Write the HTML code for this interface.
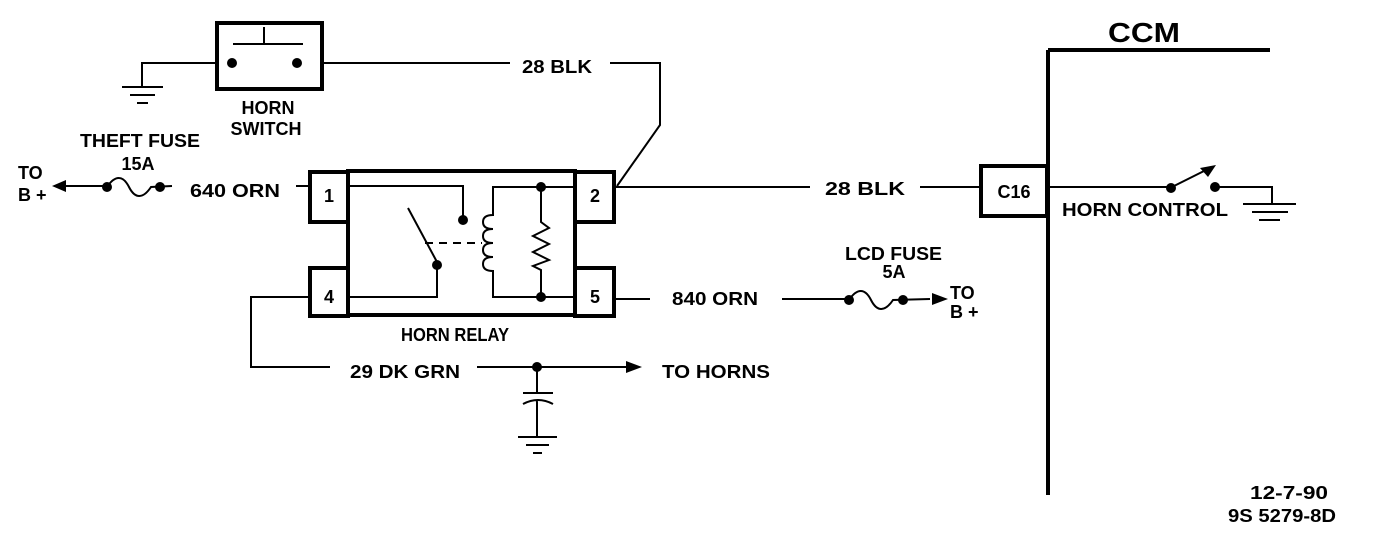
<!DOCTYPE html>
<html><head><style>
html,body{margin:0;padding:0;background:#fff;}
svg{display:block;}
text{font-family:"Liberation Sans Narrow","Liberation Sans",sans-serif;font-weight:bold;font-size:18px;fill:#000;}
</style></head><body>
<svg width="1376" height="536" viewBox="0 0 1376 536" xmlns="http://www.w3.org/2000/svg">
<g stroke="#000" fill="none" stroke-width="2">
<!-- horn switch -->
<rect x="217" y="23" width="105" height="66" stroke-width="4"/>
<path d="M264 27V44M233 44H303"/>
<path d="M217 63H142V87M122 87H163M130 95H155M137 103H148"/>
<path d="M322 63H510M610 63H660V125L617 186"/>
<!-- relay -->
<path d="M348 171H575V315H348Z" stroke-width="4"/>
<rect x="310" y="172" width="38" height="50" stroke-width="4" fill="#fff"/>
<rect x="310" y="268" width="38" height="48" stroke-width="4" fill="#fff"/>
<rect x="575" y="172" width="39" height="50" stroke-width="4" fill="#fff"/>
<rect x="575" y="268" width="39" height="48" stroke-width="4" fill="#fff"/>
<path d="M296 186H310M348 186H463V218"/>
<path d="M408 208L437 262M348 297H437V265"/>
<path d="M425 243H482" stroke-dasharray="8,6"/>
<path d="M575 187H493V215 q-10 0 -10 7 q0 7 10 7 q-10 0 -10 7 q0 7 10 7 q-10 0 -10 7 q0 7 10 7 q-10 0 -10 7 q0 7 10 7V297H575"/>
<path d="M541 187V222L549 228L533 236L549 244L533 252L549 260L533 266L541 270V297"/>
<path d="M614 187H810M920 187H980"/>
<!-- C16 / CCM -->
<rect x="981" y="166" width="66" height="50" stroke-width="4"/>
<path d="M1048 50V495M1048 50H1270" stroke-width="4"/>
<path d="M1048 187H1170M1170 188L1210 168M1215 187H1272V204M1243 204H1296M1252 212H1288M1259 220H1280"/>
<!-- pin 5 -->
<path d="M614 299H650M782 299H849M849 300 c8 -12 16 -12 22 0 s14 12 22 0 L930 299"/>
<!-- pin 4 -->
<path d="M310 297H251V367H330M477 367H630M537 367V393M523 393H553M523 404 Q538 396 553 404M537 400V437M518 437H557M526 445H549M533 453H542"/>
<!-- theft fuse -->
<path d="M60 186H107M107 187 c8 -12 16 -12 22 0 s14 12 22 0 L172 186"/>
</g>
<g fill="#000">
<circle cx="232" cy="63" r="5"/><circle cx="297" cy="63" r="5"/>
<circle cx="463" cy="220" r="5"/><circle cx="437" cy="265" r="5"/>
<circle cx="541" cy="187" r="5"/><circle cx="541" cy="297" r="5"/>
<circle cx="1171" cy="188" r="5"/><circle cx="1215" cy="187" r="5"/>
<circle cx="849" cy="300" r="5"/><circle cx="903" cy="300" r="5"/>
<circle cx="107" cy="187" r="5"/><circle cx="160" cy="187" r="5"/>
<circle cx="537" cy="367" r="5"/>
<polygon points="52,186 66,180 66,192"/>
<polygon points="948,299 932,293 932,305"/>
<polygon points="642,367 626,361 626,373"/>
<polygon points="1216,165 1200,168 1208,177"/>
</g>
<text x="268" y="114" text-anchor="middle">HORN</text>
<text x="266" y="135" text-anchor="middle">SWITCH</text>
<text x="522" y="73" textLength="70" lengthAdjust="spacingAndGlyphs">28 BLK</text>
<text x="80" y="147" textLength="120" lengthAdjust="spacingAndGlyphs">THEFT FUSE</text>
<text x="138" y="170" text-anchor="middle">15A</text>
<text x="18" y="179">TO</text>
<text x="18" y="201">B +</text>
<text x="190" y="197" textLength="90" lengthAdjust="spacingAndGlyphs">640 ORN</text>
<text x="329" y="202" text-anchor="middle">1</text>
<text x="595" y="202" text-anchor="middle">2</text>
<text x="329" y="303" text-anchor="middle">4</text>
<text x="595" y="303" text-anchor="middle">5</text>
<text x="455" y="341" text-anchor="middle" textLength="108" lengthAdjust="spacingAndGlyphs">HORN RELAY</text>
<text x="825" y="195" textLength="80" lengthAdjust="spacingAndGlyphs">28 BLK</text>
<text x="1014" y="198" text-anchor="middle">C16</text>
<text x="1108" y="42" style="font-size:28px" textLength="72" lengthAdjust="spacingAndGlyphs">CCM</text>
<text x="1062" y="216" textLength="166" lengthAdjust="spacingAndGlyphs">HORN CONTROL</text>
<text x="672" y="305" textLength="86" lengthAdjust="spacingAndGlyphs">840 ORN</text>
<text x="845" y="260" textLength="97" lengthAdjust="spacingAndGlyphs">LCD FUSE</text>
<text x="894" y="278" text-anchor="middle">5A</text>
<text x="950" y="299">TO</text>
<text x="950" y="318">B +</text>
<text x="350" y="378" textLength="110" lengthAdjust="spacingAndGlyphs">29 DK GRN</text>
<text x="662" y="378" textLength="108" lengthAdjust="spacingAndGlyphs">TO HORNS</text>
<text x="1250" y="499" textLength="78" lengthAdjust="spacingAndGlyphs">12-7-90</text>
<text x="1228" y="522" textLength="108" lengthAdjust="spacingAndGlyphs">9S 5279-8D</text>
</svg>
</body></html>
